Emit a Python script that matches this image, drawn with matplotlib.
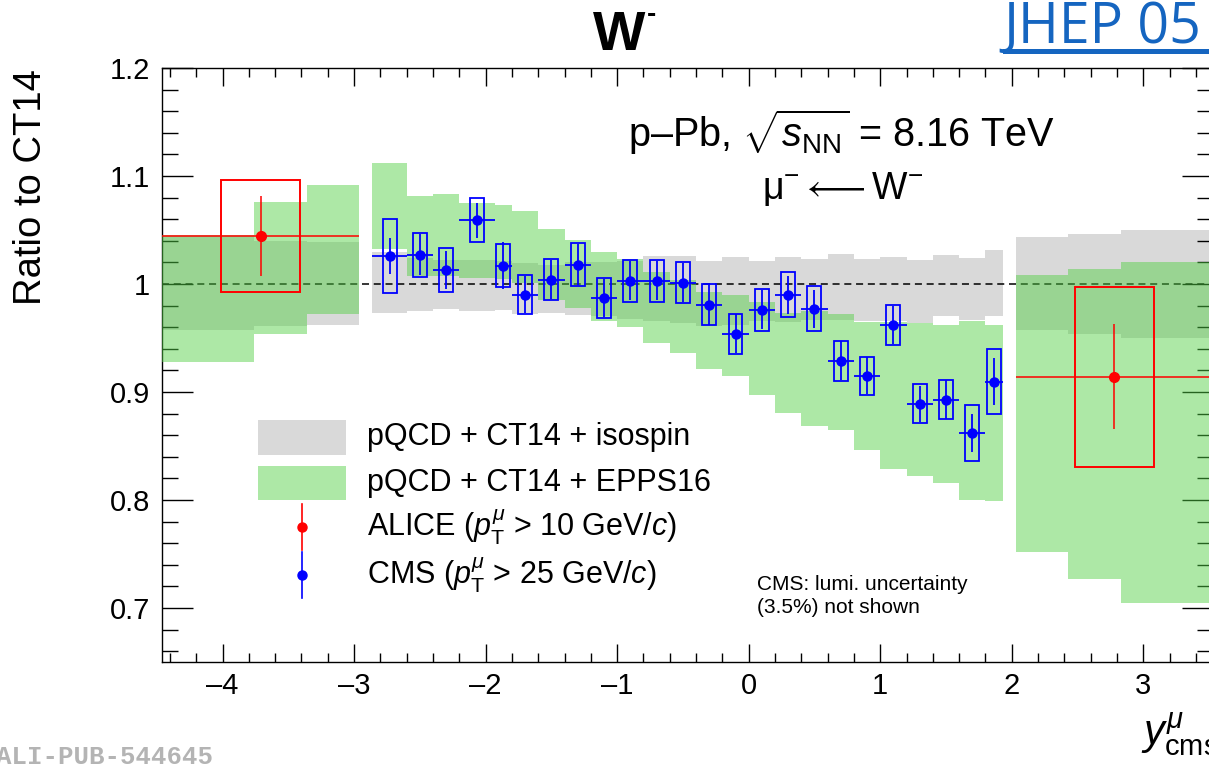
import numpy as np
import matplotlib
matplotlib.use('Agg')
import matplotlib.pyplot as plt
from matplotlib.patches import Rectangle
from matplotlib.lines import Line2D
from matplotlib.ticker import MultipleLocator, FuncFormatter

plt.rcParams['font.family'] = ['Liberation Sans', 'DejaVu Sans']
plt.rcParams['mathtext.fontset'] = 'custom'
plt.rcParams['mathtext.rm'] = 'Liberation Sans'
plt.rcParams['mathtext.it'] = 'Liberation Sans:italic'
plt.rcParams['mathtext.bf'] = 'Liberation Sans:bold'

# pQCD bands, ALICE backward region
bw_edges = [-4.46, -3.76, -3.36, -2.96]
bw_iso_lo = [0.957, 0.961, 0.962]
bw_iso_hi = [1.044, 1.0395, 1.0385]
bw_epps_lo = [0.928, 0.954, 0.9725]
bw_epps_hi = [1.045, 1.076, 1.092]

# pQCD bands, CMS region (same bins as CMS data)
cms_edges = [-2.86, -2.6, -2.4, -2.2, -1.93, -1.8, -1.6, -1.4, -1.2, -1.0, -0.8, -0.6, -0.4,
             -0.2, 0.0, 0.2, 0.4, 0.6, 0.8, 1.0, 1.2, 1.4, 1.6, 1.8, 1.93]
cms_iso_lo = [0.9734, 0.975, 0.9768, 0.975, 0.976, 0.972, 0.973, 0.971, 0.970, 0.968, 0.966, 0.964,
              0.9614, 0.962, 0.966, 0.965, 0.967, 0.967, 0.966, 0.966, 0.964, 0.970, 0.967, 0.970]
cms_iso_hi = [1.030, 1.024, 1.0225, 1.0225, 1.021, 1.0194, 1.018, 1.0204, 1.020, 1.021, 1.0256, 1.026,
              1.021, 1.0246, 1.021, 1.0246, 1.0231, 1.0278, 1.0231, 1.025, 1.0225, 1.0271, 1.024, 1.0318]
cms_epps_lo = [1.032, 1.0077, 1.007, 1.006, 1.0046, 1.001, 0.9855, 0.9775, 0.966, 0.960, 0.9454, 0.936,
               0.9216, 0.9145, 0.8975, 0.8806, 0.8688, 0.865, 0.8466, 0.8287, 0.822, 0.8157, 0.8003, 0.7987]
cms_epps_hi = [1.112, 1.0818, 1.0833, 1.075, 1.0728, 1.0672, 1.0512, 1.041, 1.0297, 1.0234, 1.0111, 1.004,
               0.993, 0.990, 0.983, 0.973, 0.9746, 0.972, 0.965, 0.9645, 0.964, 0.9623, 0.966, 0.9623]

# pQCD bands, ALICE forward region
fw_edges = [2.03, 2.43, 2.83, 3.53]
fw_iso_lo = [0.957, 0.954, 0.950]
fw_iso_hi = [1.0435, 1.0463, 1.0503]
fw_epps_lo = [0.752, 0.727, 0.705]
fw_epps_hi = [1.008, 1.014, 1.0206]

# CMS data (pT > 25 GeV/c)
cms_y = [-2.73, -2.5, -2.3, -2.065, -1.865, -1.7, -1.5, -1.3, -1.1, -0.9, -0.7, -0.5,
         -0.3, -0.1, 0.1, 0.3, 0.5, 0.7, 0.9, 1.1, 1.3, 1.5, 1.7, 1.865]
cms_val = [1.026, 1.027, 1.013, 1.059, 1.017, 0.990, 1.004, 1.018, 0.987, 1.003, 1.003, 1.001,
           0.981, 0.954, 0.976, 0.990, 0.977, 0.929, 0.915, 0.962, 0.889, 0.893, 0.862, 0.9095]
cms_stat = [0.0165, 0.019, 0.018, 0.016, 0.022, 0.017, 0.018, 0.019, 0.018, 0.018, 0.018, 0.018,
            0.019, 0.018, 0.018, 0.0176, 0.0177, 0.018, 0.017, 0.018, 0.017, 0.018, 0.018, 0.0216]
cms_sys = [0.034, 0.0205, 0.020, 0.0205, 0.020, 0.018, 0.019, 0.0196, 0.0185, 0.0193, 0.0193, 0.019,
           0.019, 0.0185, 0.0193, 0.021, 0.0207, 0.0185, 0.0177, 0.0184, 0.018, 0.0184, 0.0259, 0.030]

# ALICE data (pT > 10 GeV/c)
alice_y = [-3.71, 2.78]
alice_halfbin = [0.75, 0.75]
alice_val = [1.0447, 0.9142]
alice_stat = [0.037, 0.0486]
alice_sys = [0.052, 0.0832]

GRAY = '#d9d9d9'
GREEN = (82 / 255, 208 / 255, 69 / 255, 0.474)
W, H = 1209, 766

fig = plt.figure(figsize=(W / 100, H / 100), dpi=100)
# axes runs slightly past the right border, like the cropped original
ax = fig.add_axes([162 / W, 104 / H, 1051 / W, 594 / H])


def band(edges, lo, hi, color, z):
    edges = np.asarray(edges)
    lo = np.asarray(lo)
    hi = np.asarray(hi)
    ax.bar(edges[:-1], hi - lo, width=np.diff(edges), bottom=lo, align='edge',
           color=color, linewidth=0, zorder=z)


for e, lo, hi in [(bw_edges, bw_iso_lo, bw_iso_hi), (cms_edges, cms_iso_lo, cms_iso_hi),
                  (fw_edges, fw_iso_lo, fw_iso_hi)]:
    band(e, lo, hi, GRAY, 1)
for e, lo, hi in [(bw_edges, bw_epps_lo, bw_epps_hi), (cms_edges, cms_epps_lo, cms_epps_hi),
                  (fw_edges, fw_epps_lo, fw_epps_hi)]:
    band(e, lo, hi, GREEN, 3)

ax.axhline(1.0, color='black', lw=1.1, ls=(0, (4.6, 3.1)), zorder=2)

# CMS points
cy = np.asarray(cms_y)
ce = np.asarray(cms_edges)
ax.errorbar(cy, cms_val, xerr=[cy - ce[:-1], ce[1:] - cy], yerr=cms_stat, fmt='o',
            color='blue', ms=6.5, elinewidth=1.3, capsize=0, zorder=6)
for x, v, s in zip(cms_y, cms_val, cms_sys):
    ax.add_patch(Rectangle((x - 0.053, v - s), 0.106, 2 * s, fill=False, ec='blue', lw=1.3, zorder=6))

# ALICE points
ax.errorbar(alice_y, alice_val, xerr=alice_halfbin, yerr=alice_stat, fmt='o', color='red',
            ms=7, elinewidth=1.1, capsize=0, zorder=7)
for x, v, s in zip(alice_y, alice_val, alice_sys):
    ax.add_patch(Rectangle((x - 0.3, v - s), 0.6, 2 * s, fill=False, ec='red', lw=1.4, zorder=7))

ax.set_xlim(-4.46, 3.53)
ax.set_ylim(0.65, 1.2)
ax.xaxis.set_major_locator(MultipleLocator(1))
ax.xaxis.set_minor_locator(MultipleLocator(0.2))
ax.yaxis.set_major_locator(MultipleLocator(0.1))
ax.yaxis.set_minor_locator(MultipleLocator(0.02))
fmt = FuncFormatter(lambda v, p: f'{v:g}'.replace('-', '\u2013'))
ax.xaxis.set_major_formatter(fmt)
ax.yaxis.set_major_formatter(FuncFormatter(lambda v, p: f'{round(v, 3):g}'))
ax.tick_params(which='both', direction='in', top=True, right=True, width=1, labelsize=21)
ax.tick_params(axis='x', which='major', length=13, pad=7)
ax.tick_params(axis='x', which='minor', length=6.5)
ax.tick_params(axis='y', which='major', length=22, pad=8.5)
ax.tick_params(axis='y', which='minor', length=11.5)
for sp in ax.spines.values():
    sp.set_linewidth(1.0)

# legend, drawn by hand in axes fractions
lx0, lw_ = 0.0913, 0.0838
ax.add_patch(Rectangle((lx0, 0.3485), lw_, 0.0589, transform=ax.transAxes, fc=GRAY, lw=0, zorder=8))
ax.add_patch(Rectangle((lx0, 0.2727), lw_, 0.0573, transform=ax.transAxes, fc=GREEN, lw=0, zorder=8))
mx = lx0 + lw_ / 2
for fy, c in [(0.2273, 'red'), (0.1465, 'blue')]:
    ax.add_line(Line2D([mx, mx], [fy - 0.039, fy + 0.039], transform=ax.transAxes, color=c, lw=1.2, zorder=8))
    ax.add_line(Line2D([mx], [fy], transform=ax.transAxes, marker='o', ms=6.5, color=c, zorder=8))
tx = 0.1951
labels = ['pQCD + CT14 + isospin', 'pQCD + CT14 + EPPS16',
          r'ALICE ($p_{\rm T}^{\mu}$ > 10 GeV/$c$)', r'CMS ($p_{\rm T}^{\mu}$ > 25 GeV/$c$)']
for fy, t in zip([0.3780, 0.3013, 0.2273, 0.1465], labels):
    ax.text(tx, fy, t, transform=ax.transAxes, fontsize=22, va='center', ha='left')

ax.text(0.4434, 0.867, r'p$\endash$Pb, $\sqrt{s_{\rm NN}}$ = 8.16 TeV', transform=ax.transAxes,
        fontsize=28.5, va='baseline', ha='left')
ax.text(0.5709, 0.7795, r'$\mathrm{\mu}^{-}\longleftarrow\mathrm{W}^{-}$', transform=ax.transAxes,
        fontsize=27, va='baseline', ha='left')
ax.text(0.5661, 0.1465, 'CMS: lumi. uncertainty\n(3.5%) not shown', transform=ax.transAxes,
        fontsize=15, va='top', ha='left', linespacing=1.25)

# figure-level labels
fig.text(31 / W, 1 - 187 / H, 'Ratio to CT14', rotation=90, fontsize=27.5, ha='center', va='center')
fig.text(1141 / W, 1 - 744 / H, r'$y^{\mu}_{\rm cms}$', fontsize=30, ha='left', va='baseline')
fig.text(593 / W, 1 - 50 / H, 'W', fontsize=40, fontweight='bold', ha='left', va='baseline')
fig.text(647 / W, 1 - 22 / H, '-', fontsize=20, fontweight='bold', ha='left', va='baseline')
fig.text(1003 / W, 1 - 43 / H, 'JHEP 05', fontsize=40, family='Open Sans', color='#1565c0',
         ha='left', va='baseline')
fig.add_artist(Rectangle((1003 / W, 1 - 54 / H), 1 - 1003 / W, 5 / H, transform=fig.transFigure,
                         fc='#1565c0', lw=0))
fig.text(-4 / W, 1 - 764 / H, 'ALI-PUB-544645', fontsize=18.5, family='Liberation Mono',
         fontweight='bold', color='#b4b4b4', ha='left', va='baseline')

fig.savefig('out.png', dpi=100)
